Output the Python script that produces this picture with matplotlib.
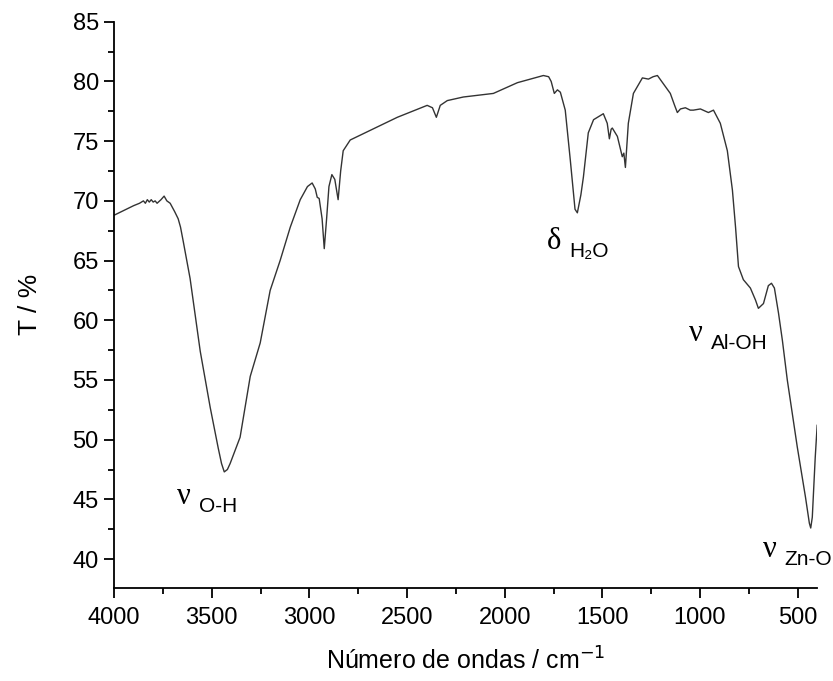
import matplotlib
matplotlib.use("Agg")
import matplotlib.pyplot as plt
from matplotlib.ticker import MultipleLocator

# Spectrum (wavenumber cm-1, transmittance %)
wavenumber = [4000, 3950, 3900, 3870, 3850, 3840, 3830, 3820, 3810, 3800, 3790, 3780,
              3760, 3744, 3730, 3713, 3700, 3690, 3672, 3660, 3646, 3611, 3559, 3508,
              3467, 3450, 3436, 3420, 3406, 3355, 3303, 3252, 3201, 3150, 3098, 3047,
              3010, 2986, 2970, 2960, 2950, 2935, 2924, 2912, 2900, 2885, 2870, 2853,
              2840, 2827, 2791, 2689, 2550, 2397, 2370, 2350, 2330, 2294, 2212, 2058,
              1935, 1802, 1775, 1762, 1746, 1730, 1715, 1700, 1690, 1664, 1640, 1628,
              1610, 1597, 1572, 1545, 1525, 1495, 1475, 1464, 1455, 1449, 1423, 1398,
              1390, 1382, 1375, 1367, 1341, 1295, 1264, 1240, 1218, 1187, 1152, 1130,
              1116, 1100, 1075, 1050, 1034, 998, 970, 957, 931, 896, 860, 834, 818, 803,
              778, 742, 716, 701, 675, 650, 634, 619, 598, 578, 553, 502, 460, 440, 433,
              425, 420, 410, 400]
transmittance = [68.8, 69.2, 69.6, 69.8, 70.0, 69.8, 70.1, 69.9, 70.1, 69.9, 70.0, 69.8,
                 70.1, 70.4, 70.0, 69.8, 69.4, 69.1, 68.5, 67.8, 66.6, 63.5, 57.4, 52.7,
                 49.3, 48.0, 47.3, 47.5, 48.0, 50.2, 55.3, 58.1, 62.5, 65.0, 67.8, 70.1,
                 71.2, 71.5, 71.0, 70.3, 70.2, 68.5, 66.0, 68.5, 71.2, 72.2, 71.8, 70.1,
                 72.5, 74.2, 75.1, 75.9, 77.0, 78.0, 77.8, 77.0, 78.0, 78.4, 78.7, 79.0,
                 79.9, 80.5, 80.4, 80.0, 79.0, 79.3, 79.1, 78.2, 77.6, 73.4, 69.3, 69.0,
                 70.5, 72.0, 75.7, 76.8, 77.0, 77.3, 76.5, 75.2, 76.0, 76.1, 75.4, 73.7,
                 74.0, 72.8, 74.5, 76.5, 79.0, 80.3, 80.2, 80.4, 80.5, 79.8, 79.0, 78.0,
                 77.4, 77.7, 77.8, 77.6, 77.6, 77.7, 77.5, 77.4, 77.6, 76.5, 74.2, 70.9,
                 67.8, 64.5, 63.4, 62.7, 61.7, 61.0, 61.4, 62.9, 63.1, 62.7, 60.6, 58.3,
                 55.0, 49.4, 45.2, 43.0, 42.6, 43.5, 45.2, 48.5, 51.2]

# Band annotations: (x, y, symbol, subscript)
ann_x = [3680, 1782, 1059, 680]
ann_y = [45.2, 66.6, 58.9, 40.8]
ann_sym = ["ν", "δ", "ν", "ν"]
ann_sub = ["O-H", "H₂O", "Al-OH", "Zn-O"]

xticks = [4000, 3500, 3000, 2500, 2000, 1500, 1000, 500]
yticks = [40, 45, 50, 55, 60, 65, 70, 75, 80, 85]

fig = plt.figure(figsize=(8.33, 6.81), dpi=100)
ax = fig.add_axes([0.137, 0.137, 0.844, 0.831])
ax.plot(wavenumber, transmittance, color="#333333", lw=1.0)

ax.set_xlim(4000, 400)
ax.set_ylim(37.6, 85)
ax.set_xticks(xticks)
ax.set_yticks(yticks)
ax.xaxis.set_minor_locator(MultipleLocator(250))
ax.yaxis.set_minor_locator(MultipleLocator(2.5))
for s in ["top", "right"]:
    ax.spines[s].set_visible(False)
for s in ["left", "bottom"]:
    ax.spines[s].set_linewidth(1.3)
ax.tick_params(which="major", direction="out", length=7, width=1.3,
               labelsize=17, pad=4)
ax.tick_params(axis="x", which="major", pad=7)
ax.tick_params(which="minor", direction="out", length=4, width=1.3)
for lbl in ax.get_xticklabels() + ax.get_yticklabels():
    lbl.set_fontfamily("Liberation Sans")

ax.set_xlabel("Número de ondas / cm$^{-1}$", fontsize=18, family="Liberation Sans", labelpad=13)
ax.set_ylabel("T / %", fontsize=19, family="Liberation Sans", labelpad=22)

for x, y, sym, sub in zip(ann_x, ann_y, ann_sym, ann_sub):
    ax.text(x, y, sym, fontsize=22, family="Liberation Serif", ha="left", va="center")
    ax.annotate(sub, xy=(x, y), xytext=(16, -7), textcoords="offset points",
                fontsize=15, family="Liberation Sans", ha="left", va="center")

fig.savefig("out.png", dpi=100)
